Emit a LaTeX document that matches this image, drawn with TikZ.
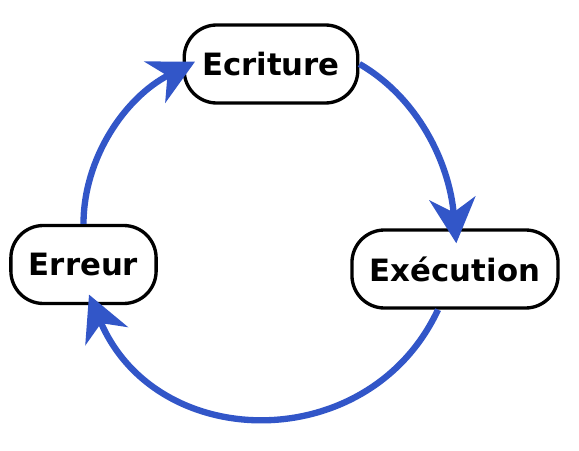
\documentclass[tikz,border=0pt]{standalone}
\usepackage{fontspec}
\setmainfont{DejaVu Sans}
\usetikzlibrary{arrows.meta}
\definecolor{bleu}{RGB}{50,86,200}
\tikzset{etape/.style={draw,line width=1.9pt,rounded corners=0.65cm,fill=white,minimum height=1.56cm,inner xsep=0.36cm,font=\fontsize{17.5}{20}\selectfont\bfseries},
	fleche/.style={bleu,line width=3.6pt,-{Stealth[length=0.9cm,width=0.92cm,inset=0.28cm]}}}

\begin{document}
\begin{tikzpicture}
\useasboundingbox (0,0) rectangle (11.58,9);
\node[etape] (ecriture) at (5.42,7.72) {Ecriture};
\node[etape] (execution) at (9.10,3.62) {Exécution};
\node[etape] (erreur) at (1.67,3.71) {Erreur};
\draw[fleche,shorten >=-0.3cm] (ecriture.east) to[out=-30,in=95,looseness=0.9] (execution.north);
\draw[fleche,shorten >=-0.23cm] ([xshift=-0.34cm]execution.south) to[out=-115,in=-67,looseness=1.2] ([xshift=0.2cm]erreur.south);
\draw[fleche,shorten >=-0.28cm] (erreur.north) to[out=90,in=-153,looseness=0.9] ([yshift=-0.08cm]ecriture.west);
\end{tikzpicture}
\end{document}
